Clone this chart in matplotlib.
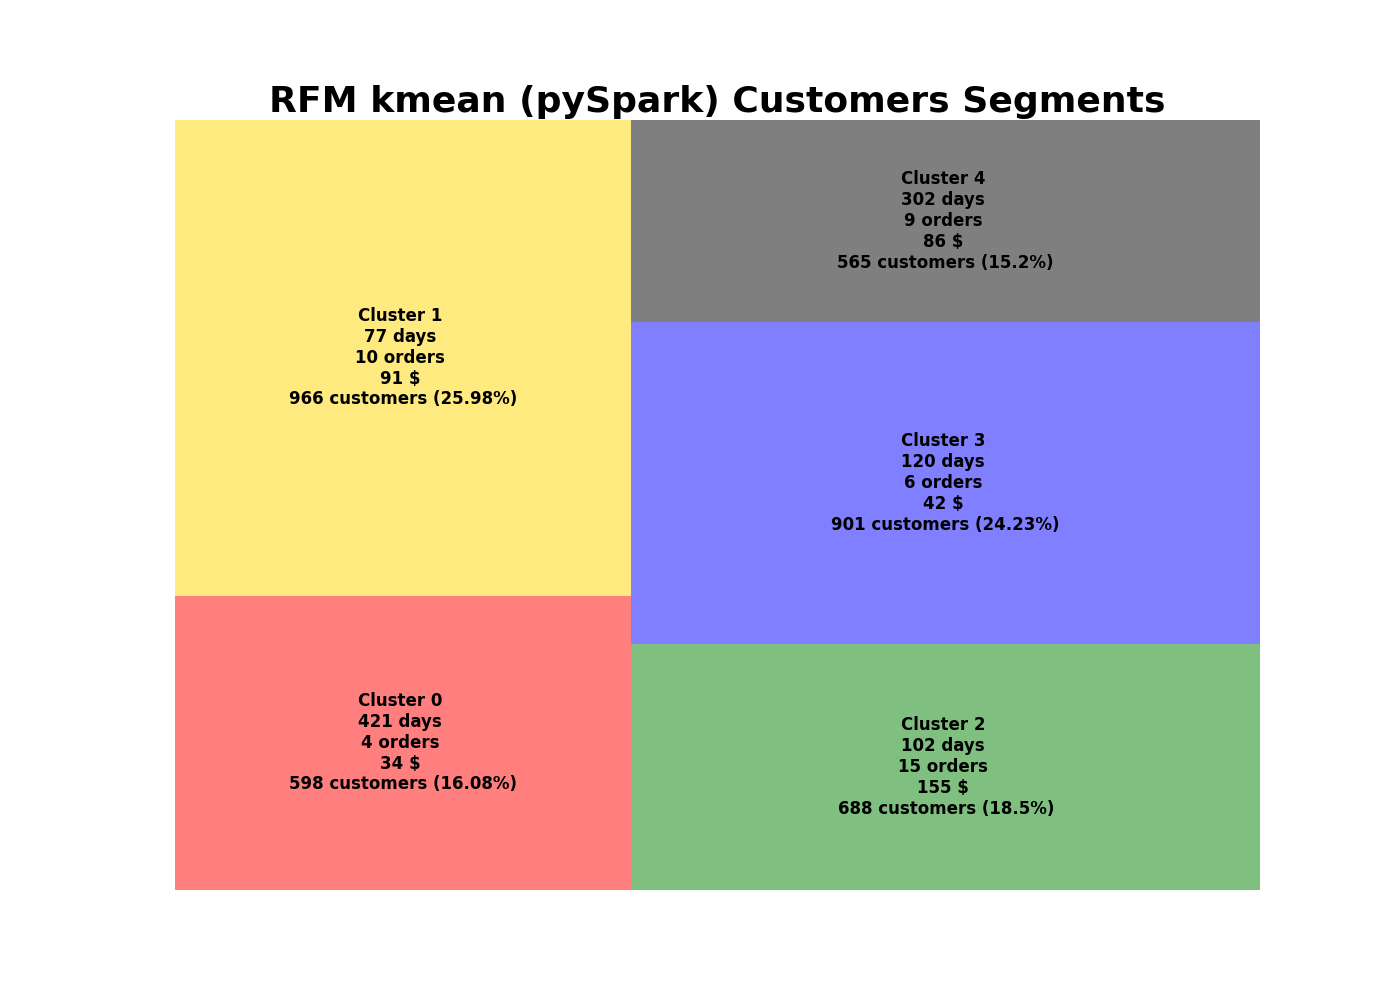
import matplotlib
matplotlib.use('Agg')
import matplotlib.pyplot as plt

# cluster summary (RFM kmeans)
clusters = ['Cluster 0', 'Cluster 1', 'Cluster 2', 'Cluster 3', 'Cluster 4']
recency_days = [421, 77, 102, 120, 302]
frequency_orders = [4, 10, 15, 6, 9]
monetary = [34, 91, 155, 42, 86]
customers = [598, 966, 688, 901, 565]
colors = ['red', 'gold', 'green', 'blue', 'black']


# small squarify implementation (same algorithm as the squarify package)
def normalize_sizes(sizes, dx, dy):
    total = sum(sizes)
    return [s * dx * dy / total for s in sizes]

def layoutrow(sizes, x, y, dx, dy):
    width = sum(sizes) / dy
    rects = []
    for s in sizes:
        rects.append((x, y, width, s / width))
        y += s / width
    return rects

def layoutcol(sizes, x, y, dx, dy):
    height = sum(sizes) / dx
    rects = []
    for s in sizes:
        rects.append((x, y, s / height, height))
        x += s / height
    return rects

def layout(sizes, x, y, dx, dy):
    return layoutrow(sizes, x, y, dx, dy) if dx >= dy else layoutcol(sizes, x, y, dx, dy)

def leftover(sizes, x, y, dx, dy):
    if dx >= dy:
        width = sum(sizes) / dy
        return x + width, y, dx - width, dy
    height = sum(sizes) / dx
    return x, y + height, dx, dy - height

def worst_ratio(sizes, x, y, dx, dy):
    return max(max(r[2] / r[3], r[3] / r[2]) for r in layout(sizes, x, y, dx, dy))

def squarify(sizes, x, y, dx, dy):
    if len(sizes) == 0:
        return []
    if len(sizes) == 1:
        return layout(sizes, x, y, dx, dy)
    i = 1
    while i < len(sizes) and worst_ratio(sizes[:i], x, y, dx, dy) >= worst_ratio(sizes[:i + 1], x, y, dx, dy):
        i += 1
    current, remaining = sizes[:i], sizes[i:]
    lx, ly, ldx, ldy = leftover(current, x, y, dx, dy)
    return layout(current, x, y, dx, dy) + squarify(remaining, lx, ly, ldx, ldy)


total = sum(customers)
labels = []
for k in range(len(clusters)):
    pct = round(customers[k] * 100 / total, 2)
    labels.append(f'{clusters[k]} \n{recency_days[k]} days \n{frequency_orders[k]} orders \n'
                  f'{monetary[k]} $ \n{customers[k]} customers ({pct}%)')

fig, ax = plt.subplots(figsize=(14, 10), dpi=100)
norm_x, norm_y = 100, 100
rects = squarify(normalize_sizes(customers, norm_x, norm_y), 0, 0, norm_x, norm_y)
for (x, y, dx, dy), c, lab in zip(rects, colors, labels):
    ax.bar(x, dy, width=dx, bottom=y, color=c, alpha=0.5, align='edge', linewidth=0)
    ax.text(x + dx / 2, y + dy / 2, lab, va='center', ha='center',
            fontsize=12, fontweight='bold')

ax.set_xlim(0, norm_x)
ax.set_ylim(0, norm_y)
ax.set_title('RFM kmean (pySpark) Customers Segments', fontsize=26, fontweight='bold')
ax.axis('off')

fig.savefig('out.png')
